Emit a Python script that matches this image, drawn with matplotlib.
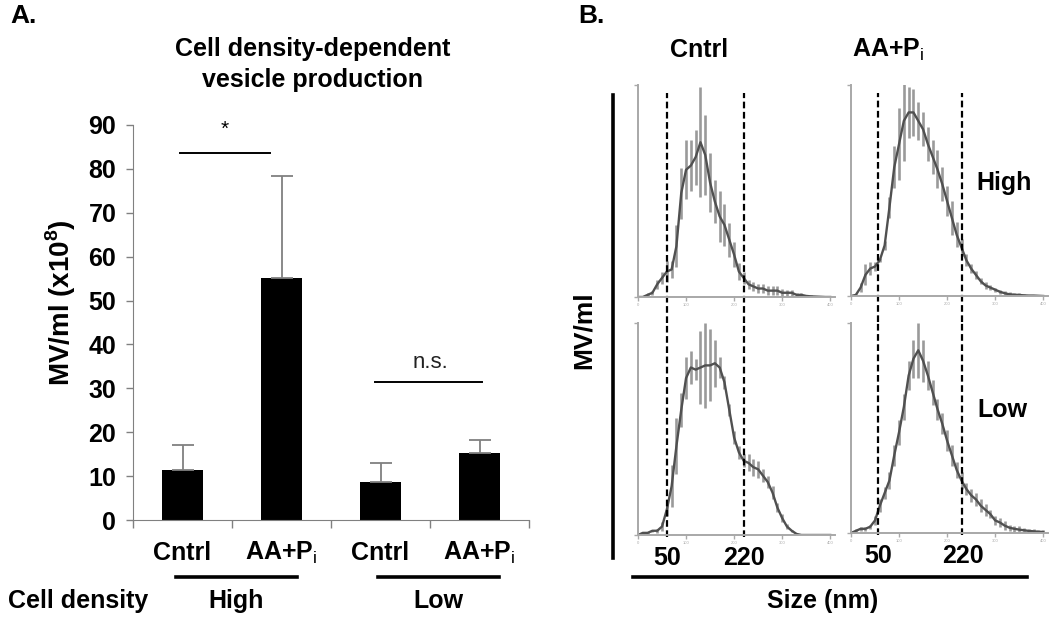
import numpy as np
import matplotlib
matplotlib.use("Agg")
import matplotlib.pyplot as plt
from matplotlib.lines import Line2D

plt.rcParams["font.family"] = ["Liberation Sans", "DejaVu Sans"]
plt.rcParams["mathtext.fontset"] = "custom"
plt.rcParams["mathtext.rm"] = "Liberation Sans"
plt.rcParams["mathtext.bf"] = "Liberation Sans:bold"

# -----------------------------
# Panel A data
# -----------------------------
bar_labels = ["Cntrl", r"AA+P$_\mathrm{i}$", "Cntrl", r"AA+P$_\mathrm{i}$"]
bar_means = [11.5, 55.1, 8.7, 15.2]
bar_err = [5.5, 23.3, 4.2, 3.0]
density_groups = ["High", "Low"]

# -----------------------------
# Panel B data (size distributions, % of axis height)
# -----------------------------
size_nm = list(range(0, 410, 10))

cntrl_high = [0, 0, 1, 2, 6, 9, 12, 13, 24, 49, 60, 62, 66, 73, 67, 54, 45, 38, 34, 27,
              20, 12, 9, 6, 5, 4, 4, 3, 3, 3, 2, 2, 2, 1, 1, 0.5, 0.3, 0.2, 0.1, 0, 0]
cntrl_high_err = [0, 0, 1, 1, 2, 3, 5, 4, 10, 12, 14, 12, 13, 26, 19, 14, 10, 12, 10, 8,
                  6, 4, 3, 2, 2, 2, 2, 2, 2, 2, 2, 1.5, 1.5, 1, 1, 0.5, 0.5, 0, 0, 0, 0]

aa_high = [0, 0.5, 4, 10, 13, 14, 17, 24, 42, 61, 72, 83, 87, 87, 83, 79, 72, 66, 60, 53,
           45, 37, 29, 23, 17, 13, 10, 7, 5, 4, 3, 2, 1.3, 0.8, 0.6, 0.5, 0.3, 0.2, 0.2, 0.1, 0]
aa_high_err = [0, 0.5, 2, 5, 3, 2, 1, 2, 5, 10, 17, 19, 12, 11, 9, 8, 8, 8, 9, 8,
               7, 8, 6, 4, 3, 2, 2, 1.5, 1.5, 1, 1, 1, 1, 1, 0.8, 0.8, 0.6, 0.5, 0.5, 0.5, 0.3]

cntrl_low = [0, 1, 1, 2, 2, 4, 12, 23, 42, 59, 74, 79, 78, 79, 80, 80, 81, 79, 72, 59,
             46, 39, 35, 34, 32, 31, 28, 25, 20, 13, 8, 4, 2, 0.5, 0, 0, 0, 0, 0, 0, 0]
cntrl_low_err = [0, 0.5, 0.5, 0.5, 1, 2, 3, 10, 13, 8, 10, 8, 5, 17, 20, 17, 11, 5, 3, 3,
                 3, 3, 3, 4, 4, 4, 3, 3, 3, 2, 2, 1, 0.5, 0, 0, 0, 0, 0, 0, 0, 0]

aa_low = [0, 1, 2, 2, 3, 6, 13, 19, 25, 37, 48, 60, 75, 83, 87, 82, 75, 67, 59, 52,
          44, 37, 30, 25, 21, 18, 16, 13, 11, 9, 6, 5, 3.5, 2.5, 2, 1.6, 1.3, 1, 0.8, 0.6, 0.5]
aa_low_err = [0, 1, 1, 1, 1, 2, 3, 3, 4, 5, 6, 6, 7, 9, 13, 10, 7, 6, 5, 5,
              5, 5, 4, 4, 3, 3, 3, 3, 3, 2, 2, 2, 2, 1.5, 1.5, 1.5, 1, 1, 1, 1, 1]

dash_cntrl = [60, 221]
dash_aa = [56, 232]
dash_labels = ["50", "220"]
size_ticks = [0, 100, 200, 300, 400]

W, H = 1050, 619
fig = plt.figure(figsize=(10.5, 6.19), dpi=100)


def fx(px):
    return px / W


def fy(py):
    return 1 - py / H


# -----------------------------
# Panel A: bar chart
# -----------------------------
axA = fig.add_axes([fx(133), fy(520), fx(529 - 133), (520 - 125) / H])
xpos = np.arange(len(bar_means))
axA.bar(xpos, bar_means, width=0.42, color="black")
axA.errorbar(xpos, bar_means, yerr=[np.zeros(len(bar_err)), bar_err], fmt="none",
             ecolor="#808080", elinewidth=1.3, capsize=8, capthick=1.3)
axA.set_xlim(-0.5, 3.5)
axA.set_ylim(0, 90)
axA.set_yticks(range(0, 100, 10))
axA.set_yticklabels([str(v) for v in range(0, 100, 10)], fontsize=18, fontweight="bold")
axA.set_xticks(np.arange(-0.5, 4, 1), minor=True)
axA.set_xticks([])
axA.tick_params(axis="y", colors="#808080", labelcolor="black", length=5, width=1, pad=7)
axA.tick_params(axis="x", which="minor", colors="#808080", length=6, width=1)
for s in ["top", "right"]:
    axA.spines[s].set_visible(False)
for s in ["left", "bottom"]:
    axA.spines[s].set_color("#808080")
axA.set_ylabel(r"MV/ml (x10$^\mathbf{8}$)", fontsize=20, fontweight="bold", labelpad=8)
axA.yaxis.set_label_coords(-0.14, 0.55)

# significance marks
axA.plot([-0.03, 0.88], [83.6, 83.6], color="black", lw=1.4, clip_on=False)
axA.text(0.43, 89, "*", ha="center", va="center", fontsize=15)
axA.plot([1.94, 3.03], [31.4, 31.4], color="black", lw=1.4)
axA.text(2.5, 36, "n.s.", ha="center", va="center", fontsize=16, color="#222222")

# category labels
for i, lab in enumerate(bar_labels):
    fig.text(fx(182 + 99 * i), fy(553), lab, ha="center", va="center",
             fontsize=18, fontweight="bold")
for i, grp in enumerate(density_groups):
    x0, x1 = 176 + 202 * i, 297 + 202 * i
    fig.add_artist(Line2D([fx(x0), fx(x1)], [fy(577), fy(577)], color="black", lw=2.6))
    fig.text(fx((x0 + x1) / 2), fy(601), grp, ha="center", va="center",
             fontsize=18, fontweight="bold")
fig.text(fx(8), fy(601), "Cell density", ha="left", va="center", fontsize=18, fontweight="bold")

fig.text(fx(313), fy(49), "Cell density-dependent", ha="center", va="center",
         fontsize=18, fontweight="bold")
fig.text(fx(313), fy(80), "vesicle production", ha="center", va="center",
         fontsize=18, fontweight="bold")
fig.text(fx(10), fy(16), "A.", ha="left", va="center", fontsize=19, fontweight="bold")

# -----------------------------
# Panel B: size distributions
# -----------------------------
panels = [
    (638, 85, 297, cntrl_high, cntrl_high_err, dash_cntrl, True),
    (851, 85, 296, aa_high, aa_high_err, dash_aa, True),
    (638, 323, 535, cntrl_low, cntrl_low_err, dash_cntrl, False),
    (851, 323, 533, aa_low, aa_low_err, dash_aa, False),
]
for left, top, bottom, vals, errs, dashes, is_top in panels:
    ax = fig.add_axes([fx(left), fy(bottom), fx(197), (bottom - top) / H])
    ax.errorbar(size_nm, vals, yerr=errs, fmt="none", ecolor="#9a9a9a", elinewidth=1.9)
    ax.plot(size_nm, vals, color="#505050", lw=1.7)
    ax.set_xlim(0, 410)
    ax.set_ylim(0, 100)
    ax.set_yticks([0, 100])
    ax.set_yticklabels([])
    ax.set_xticks(size_ticks)
    ax.set_xticklabels([str(t) for t in size_ticks], fontsize=3, color="#777777")
    ax.tick_params(colors="#aaaaaa", length=3, width=1, pad=1)
    for s in ["top", "right"]:
        ax.spines[s].set_visible(False)
    for s in ["left", "bottom"]:
        ax.spines[s].set_color("#a8a8a8")
        ax.spines[s].set_linewidth(1.4)
    y_hi, y_lo = (0.962, -0.123) if is_top else (1.0, -0.01)
    for d in dashes:
        ax.plot([d, d], [y_lo, y_hi], transform=ax.get_xaxis_transform(), color="black",
                lw=1.6, dashes=(3, 1.6), clip_on=False)
    if not is_top:
        for d, lab in zip(dashes, dash_labels):
            ax.text(d, -0.11, lab, transform=ax.get_xaxis_transform(), ha="center",
                    va="center", fontsize=18, fontweight="bold")

fig.text(fx(699), fy(50), "Cntrl", ha="center", va="center", fontsize=18, fontweight="bold")
fig.text(fx(888), fy(50), r"AA+P$_\mathrm{i}$", ha="center", va="center",
         fontsize=18, fontweight="bold")
fig.text(fx(976), fy(183), "High", ha="left", va="center", fontsize=18, fontweight="bold")
fig.text(fx(977), fy(410), "Low", ha="left", va="center", fontsize=18, fontweight="bold")
fig.text(fx(584), fy(330), "MV/ml", ha="center", va="center", rotation=90,
         fontsize=19, fontweight="bold")
fig.add_artist(Line2D([fx(613), fx(613)], [fy(95), fy(558)], color="black", lw=2.6))
fig.add_artist(Line2D([fx(633), fx(1027)], [fy(577), fy(577)], color="black", lw=2.6))
fig.text(fx(823), fy(601), "Size (nm)", ha="center", va="center", fontsize=18, fontweight="bold")
fig.text(fx(578), fy(16), "B.", ha="left", va="center", fontsize=19, fontweight="bold")

fig.savefig("out.png", dpi=100)
